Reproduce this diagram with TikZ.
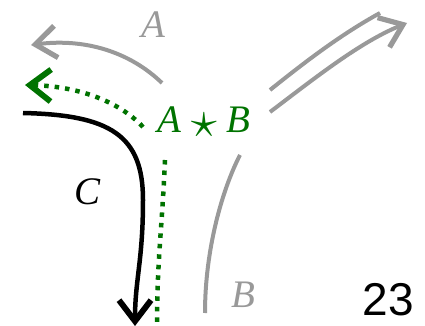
\documentclass[tikz,border=0pt]{standalone}
\usepackage{fontspec}
\setmainfont{Liberation Serif}
\newfontfamily\numfont{Liberation Sans}
\usetikzlibrary{arrows.meta}
\definecolor{pathgreen}{RGB}{0,115,0}
\definecolor{pathgray}{RGB}{153,153,153}
\begin{document}
\begin{tikzpicture}[x=1pt, y=-1pt,
  every node/.style={font=\fontsize{39}{44}\selectfont},
  barb/.style={-{Straight Barb[length=21pt, width=32pt, line width=0pt 1.3, line cap=butt, line join=miter]}},
  grayline/.style={draw=pathgray, line width=4pt},
  greendots/.style={draw=pathgreen, line width=4.5pt, dash pattern=on 4.5pt off 6pt},
  blackline/.style={draw=black, line width=4.5pt}]
  \useasboundingbox (0,0) rectangle (425,326);
  \coordinate (aS) at (162,83);
  \coordinate (aE) at (31,45);
  \coordinate (gS) at (143,127);
  \coordinate (gE) at (25,85);
  \coordinate (dS) at (165,160);
  \coordinate (dE) at (157,326);
  \coordinate (cS) at (23,113);
  \coordinate (cM) at (143,200);
  \coordinate (cE) at (135,326);
  \coordinate (bS) at (205,313);
  \coordinate (bE) at (240,155);
  \coordinate (uS) at (270,90);
  \coordinate (uE) at (380,13);
  \coordinate (lS) at (270,112);
  \coordinate (lE) at (407,23);
  \node[text=pathgray] (labA) at (153,25) {\textit{A}};
  \node[text=pathgreen] (labAB) at (204,122)
    {\textit{A}\hspace{0.25em}\raisebox{-0.12em}{\scalebox{2.1}{$\star$}}\hspace{0.25em}\textit{B}};
  \node (labC) at (88,192) {\textit{C}};
  \node[text=pathgray] (labB) at (243,295) {\textit{B}};
  \node[font=\fontsize{46}{50}\numfont] (page) at (388,300) {23};
  \draw[grayline, barb] (aS) .. controls (130,52) and (85,38) .. (aE);
  \draw[greendots, barb] (gS) .. controls (118,100) and (75,86) .. (gE);
  \draw[greendots] (dS) .. controls (162,230) and (157,260) .. (dE);
  \draw[blackline] (cS) .. controls (110,115) and (143,135) .. (cM);
  \draw[blackline, barb] (cM) .. controls (143,260) and (135,280) .. (cE);
  \draw[grayline] (bS) .. controls (205,250) and (222,190) .. (bE);
  \draw[grayline] (uS) .. controls (305,62) and (340,35) .. (uE);
  \draw[grayline, barb] (lS) .. controls (315,78) and (360,42) .. (lE);
\end{tikzpicture}
\end{document}
